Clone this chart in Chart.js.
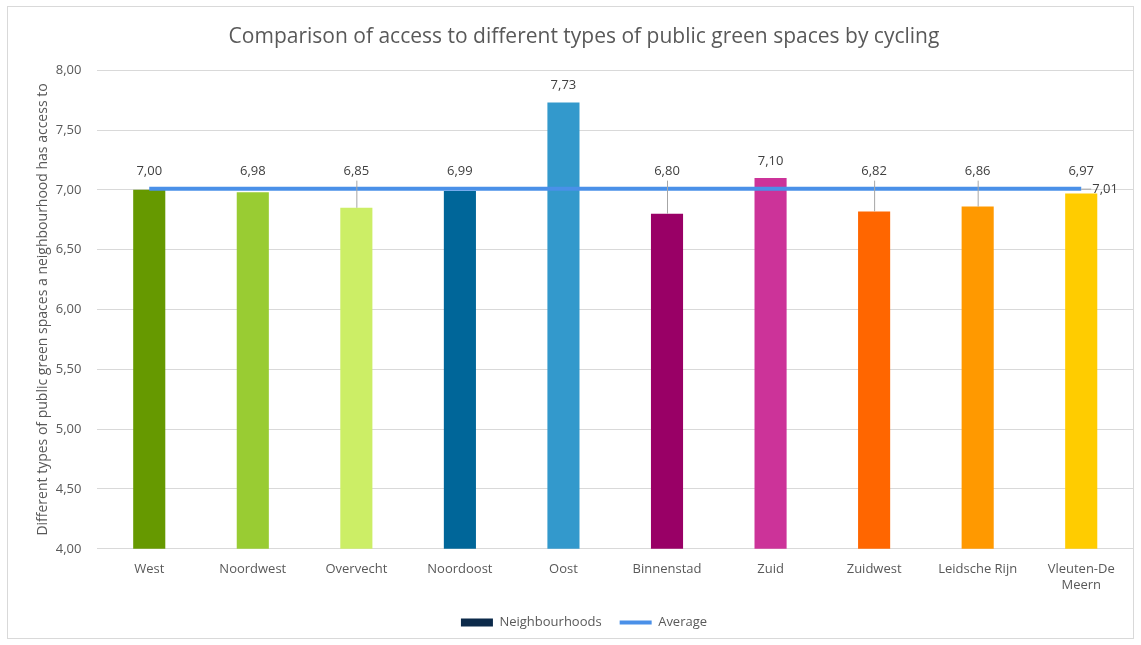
<!DOCTYPE html>
<html>
<head>
<meta charset="utf-8">
<script src="https://cdn.jsdelivr.net/npm/chart.js"></script>
<style>
  html, body { margin: 0; padding: 0; background: #fff; }
  #wrap { width: 1141px; height: 645px; }
</style>
</head>
<body>
<div id="wrap"><canvas id="accessChart"></canvas></div>
<script>
const neighbourhoods = ['West', 'Noordwest', 'Overvecht', 'Noordoost', 'Oost', 'Binnenstad', 'Zuid', 'Zuidwest', 'Leidsche Rijn', ['Vleuten-De', 'Meern']];
const greenSpaceTypes = [7.00, 6.98, 6.85, 6.99, 7.73, 6.80, 7.10, 6.82, 6.86, 6.97];
const averageValues = [7.01, 7.01, 7.01, 7.01, 7.01, 7.01, 7.01, 7.01, 7.01, 7.01];
const barColors = ['#669900', '#99cc33', '#ccee66', '#006699', '#3399cc', '#990066', '#cc3399', '#ff6600', '#ff9900', '#ffcc00'];

const fmt = v => v.toFixed(2).replace('.', ',');
const textColor = '#595959';

// frame round the whole chart, like the exported office chart
const framePlugin = {
    id: 'frame',
    beforeDraw(chart) {
        const ctx = chart.ctx;
        ctx.save();
        ctx.fillStyle = '#fff';
        ctx.fillRect(0, 0, chart.width, chart.height);
        ctx.strokeStyle = '#d9d9d9';
        ctx.lineWidth = 1;
        ctx.strokeRect(7.5, 6.5, chart.width - 15, chart.height - 13);
        ctx.restore();
    }
};

// value labels above the bars, with leader lines where the label was pushed up
const valueLabels = {
    id: 'valueLabels',
    afterDatasetsDraw(chart) {
        const ctx = chart.ctx;
        const y = chart.scales.y;
        const avgY = y.getPixelForValue(averageValues[0]);
        ctx.save();
        ctx.font = '13px "Open Sans", sans-serif';
        ctx.fillStyle = '#404040';
        ctx.textAlign = 'center';
        ctx.textBaseline = 'middle';
        chart.getDatasetMeta(0).data.forEach((bar, i) => {
            const top = bar.y;
            const ly = Math.min(top, avgY) - 17;
            if (top - avgY > 6) {
                ctx.strokeStyle = '#a6a6a6';
                ctx.lineWidth = 1;
                ctx.beginPath();
                ctx.moveTo(bar.x + 0.5, ly + 9);
                ctx.lineTo(bar.x + 0.5, top);
                ctx.stroke();
            }
            ctx.fillText(fmt(greenSpaceTypes[i]), bar.x, ly);
        });
        // label at the end of the average line
        const pts = chart.getDatasetMeta(1).data;
        const last = pts[pts.length - 1];
        ctx.strokeStyle = '#a6a6a6';
        ctx.beginPath();
        ctx.moveTo(last.x, last.y + 0.5);
        ctx.lineTo(last.x + 10, last.y + 0.5);
        ctx.stroke();
        ctx.textAlign = 'left';
        ctx.fillText(fmt(averageValues[averageValues.length - 1]), last.x + 11, last.y + 1);
        ctx.restore();
    }
};

new Chart(document.getElementById('accessChart').getContext('2d'), {
    data: {
        labels: neighbourhoods,
        datasets: [{
            type: 'bar',
            label: 'Neighbourhoods',
            data: greenSpaceTypes,
            backgroundColor: barColors,
            barPercentage: 0.31,
            categoryPercentage: 1,
            order: 2
        }, {
            type: 'line',
            label: 'Average',
            data: averageValues,
            borderColor: '#4a90e8',
            backgroundColor: '#4a90e8',
            borderWidth: 4,
            pointRadius: 0,
            order: 1
        }]
    },
    options: {
        responsive: true,
        maintainAspectRatio: false,
        animation: false,
        layout: { padding: { left: 35, right: 8, top: 8, bottom: 6 } },
        plugins: {
            title: {
                display: true,
                text: 'Comparison of access to different types of public green spaces by cycling',
                color: textColor,
                font: { family: '"Open Sans", sans-serif', size: 21, weight: 'normal' },
                padding: { top: 16, bottom: 21 }
            },
            legend: {
                position: 'bottom',
                labels: {
                    color: textColor,
                    font: { family: '"Open Sans", sans-serif', size: 13 },
                    usePointStyle: true,
                    pointStyleWidth: 32,
                    boxHeight: 8,
                    padding: 18,
                    generateLabels(chart) {
                        return [{
                            text: 'Neighbourhoods', fillStyle: '#0c2a4a', strokeStyle: '#0c2a4a',
                            lineWidth: 0, pointStyle: 'rect', datasetIndex: 0, fontColor: textColor
                        }, {
                            text: 'Average', fillStyle: '#4a90e8', strokeStyle: '#4a90e8',
                            lineWidth: 4, pointStyle: 'line', datasetIndex: 1, fontColor: textColor
                        }];
                    }
                }
            },
            tooltip: { enabled: false }
        },
        scales: {
            x: {
                grid: { display: false },
                border: { color: '#d9d9d9' },
                ticks: {
                    color: textColor,
                    font: { family: '"Open Sans", sans-serif', size: 13 },
                    maxRotation: 0,
                    autoSkip: false,
                    padding: 5
                }
            },
            y: {
                min: 4,
                max: 8,
                grid: { color: '#d9d9d9', drawTicks: false },
                border: { display: false },
                ticks: {
                    stepSize: 0.5,
                    color: textColor,
                    font: { family: '"Open Sans", sans-serif', size: 13 },
                    padding: 16,
                    callback: v => fmt(v)
                },
                title: {
                    display: true,
                    text: 'Different types of public green spaces a neighbourhood has access to',
                    color: textColor,
                    font: { family: '"Open Sans", sans-serif', size: 14 },
                    padding: { top: 0, bottom: -12 }
                }
            }
        }
    },
    plugins: [framePlugin, valueLabels]
});
</script>
</body>
</html>
